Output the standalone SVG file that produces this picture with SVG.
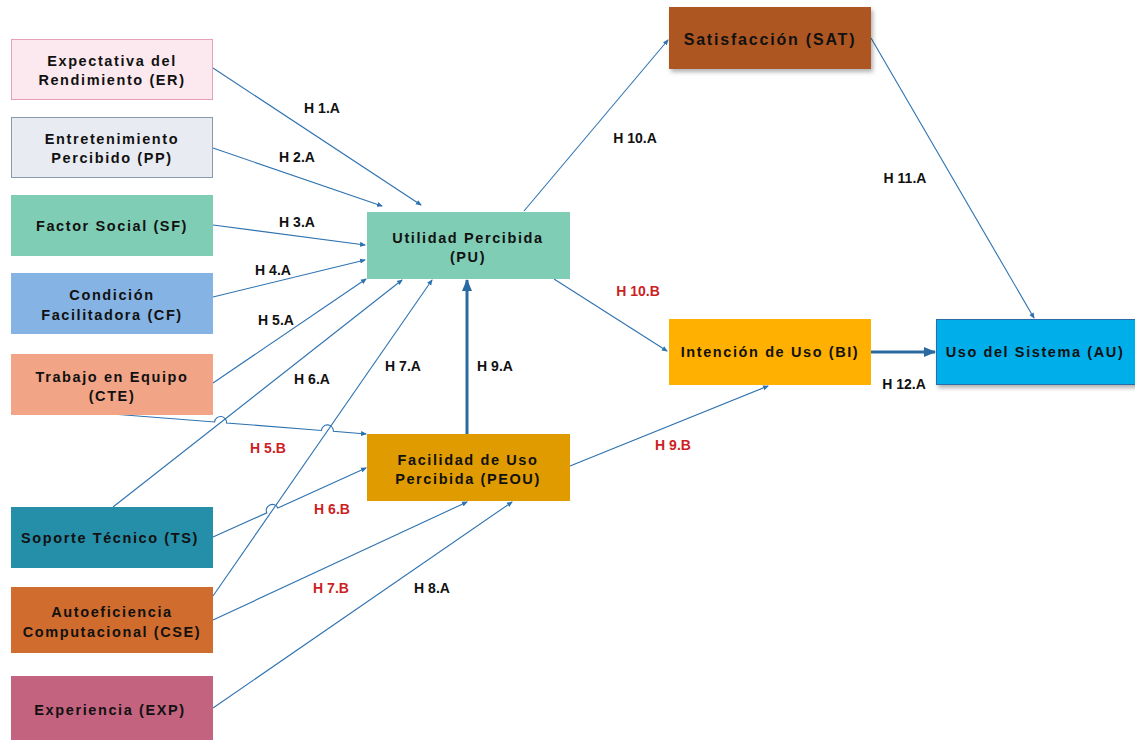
<svg xmlns="http://www.w3.org/2000/svg" width="1135" height="740" viewBox="0 0 1135 740">
  <defs>
    <style>
      .node text { font-family: "Liberation Sans", Arial, sans-serif; font-weight: bold; font-size: 14.5px; letter-spacing: 1.6px; fill: #111; text-anchor: middle; }
      #SAT text { font-size: 16px; letter-spacing: 1.8px; }
      .lbl { font-family: "Liberation Sans", Arial, sans-serif; font-weight: bold; font-size: 14px; fill: #111; text-anchor: middle; }
      .red { fill: #cc1f1f; }
      .ln { fill: none; stroke: #2e72b0; stroke-width: 1.1; marker-end: url(#tip); }
      .thick { fill: none; stroke: #2a6aa3; stroke-width: 3; marker-end: url(#bigtip); }
    </style>
    <marker id="tip" viewBox="0 0 6 6" refX="5" refY="3" markerWidth="6" markerHeight="6" markerUnits="userSpaceOnUse" orient="auto">
      <path d="M0,0.5 L6,3 L0,5.5 z" fill="#2e72b0"/>
    </marker>
    <marker id="bigtip" viewBox="0 0 12 10" refX="11" refY="5" markerWidth="12" markerHeight="10" markerUnits="userSpaceOnUse" orient="auto">
      <path d="M0,0 L12,5 L0,10 z" fill="#2a6aa3"/>
    </marker>
    <filter id="shadow" x="-10%" y="-10%" width="130%" height="140%">
      <feDropShadow dx="2" dy="3" stdDeviation="2" flood-color="#000" flood-opacity="0.3"/>
    </filter>
  </defs>

  <rect width="1135" height="740" fill="#fff"/>

  <!-- connectors -->
  <g id="connectors">
    <path class="ln" d="M213,68 L421,205"/>
    <path class="ln" d="M213,148 L382,206"/>
    <path class="ln" d="M213,225 L365,245"/>
    <path class="ln" d="M213,297 L365,260"/>
    <path class="ln" d="M213,383 L366,279"/>
    <path class="ln" d="M113,507 L402,280"/>
    <path class="ln" d="M213,596 L432,280"/>
    <!-- CTE to PEOU, hopping over the TS and CSE lines -->
    <path class="ln" d="M112,414 L214.6,422.03 A6,6 0 0 1 226.6,422.97 L321.4,430.43 A6,6 0 0 1 333.4,431.37 L366,434"/>
    <!-- TS to PEOU, hopping over the CSE line -->
    <path class="ln" d="M213,537 L266.8,512.85 A6,6 0 0 1 277.8,507.95 L366,468"/>
    <path class="ln" d="M213,620 L467,502"/>
    <path class="ln" d="M213,708 L512,502"/>
    <path class="thick" d="M467,434 L467,280"/>
    <path class="ln" d="M570,466 L768,386"/>
    <path class="ln" d="M554,279 L667,351"/>
    <path class="ln" d="M524,211 L668,40"/>
    <path class="ln" d="M871,38 L1034,318"/>
    <path class="thick" d="M871,352 L935,352"/>
  </g>

  <!-- hypothesis labels -->
  <g id="labels">
    <text class="lbl" x="322" y="113">H 1.A</text>
    <text class="lbl" x="297" y="162">H 2.A</text>
    <text class="lbl" x="297" y="227">H 3.A</text>
    <text class="lbl" x="273" y="275">H 4.A</text>
    <text class="lbl" x="276" y="325">H 5.A</text>
    <text class="lbl" x="312" y="384">H 6.A</text>
    <text class="lbl" x="403" y="371">H 7.A</text>
    <text class="lbl" x="495" y="371">H 9.A</text>
    <text class="lbl red" x="268" y="453">H 5.B</text>
    <text class="lbl red" x="332" y="514">H 6.B</text>
    <text class="lbl red" x="331" y="593">H 7.B</text>
    <text class="lbl" x="432" y="593">H 8.A</text>
    <text class="lbl red" x="673" y="450">H 9.B</text>
    <text class="lbl" x="635" y="143">H 10.A</text>
    <text class="lbl red" x="638" y="296">H 10.B</text>
    <text class="lbl" x="905" y="183">H 11.A</text>
    <text class="lbl" x="904" y="389">H 12.A</text>
  </g>

  <!-- predictor nodes -->
  <g id="ER" class="node">
    <rect x="11.5" y="39.5" width="201" height="60" fill="#fce9ef" stroke="#e8a0b4"/>
    <text x="112" y="66">Expectativa del</text>
    <text x="112" y="85">Rendimiento (ER)</text>
  </g>
  <g id="PP" class="node">
    <rect x="11.5" y="117.5" width="201" height="60" fill="#e8ebf1" stroke="#8898b0"/>
    <text x="112" y="144">Entretenimiento</text>
    <text x="112" y="163">Percibido (PP)</text>
  </g>
  <g id="SF" class="node">
    <rect x="11" y="195" width="202" height="61" fill="#7fcdb5"/>
    <text x="112" y="231">Factor Social (SF)</text>
  </g>
  <g id="CF" class="node">
    <rect x="11" y="273" width="202" height="61" fill="#85b3e3"/>
    <text x="112" y="300">Condición</text>
    <text x="112" y="320">Facilitadora (CF)</text>
  </g>
  <g id="CTE" class="node">
    <rect x="11" y="354" width="202" height="61" fill="#f2a486"/>
    <text x="112" y="382">Trabajo en Equipo</text>
    <text x="112" y="401">(CTE)</text>
  </g>
  <g id="TS" class="node">
    <rect x="11" y="507" width="202" height="61" fill="#258ea8"/>
    <text x="110" y="543">Soporte Técnico (TS)</text>
  </g>
  <g id="CSE" class="node">
    <rect x="11" y="587" width="202" height="66" fill="#d06c2d"/>
    <text x="112" y="617">Autoeficiencia</text>
    <text x="112" y="637">Computacional (CSE)</text>
  </g>
  <g id="EXP" class="node">
    <rect x="11" y="676" width="202" height="64" fill="#c3637f"/>
    <text x="110" y="715">Experiencia (EXP)</text>
  </g>

  <!-- construct nodes -->
  <g id="PU" class="node">
    <rect x="367" y="212" width="203" height="67" fill="#7fcdb5"/>
    <text x="468" y="243">Utilidad Percibida</text>
    <text x="468" y="262">(PU)</text>
  </g>
  <g id="PEOU" class="node">
    <rect x="367" y="434" width="203" height="67" fill="#e09b00"/>
    <text x="468" y="465">Facilidad de Uso</text>
    <text x="468" y="484">Percibida (PEOU)</text>
  </g>
  <g id="SAT" class="node">
    <rect x="669" y="7" width="202" height="62" fill="#ae5721" filter="url(#shadow)"/>
    <text x="770" y="45">Satisfacción (SAT)</text>
  </g>
  <g id="BI" class="node">
    <rect x="669" y="319" width="202" height="66" fill="#ffb000"/>
    <text x="770" y="357">Intención de Uso (BI)</text>
  </g>
  <g id="AU" class="node">
    <rect x="936.5" y="319.5" width="205" height="65" fill="#00aeea" stroke="#2b6ca8" filter="url(#shadow)"/>
    <text x="1035" y="357">Uso del Sistema (AU)</text>
  </g>
</svg>
